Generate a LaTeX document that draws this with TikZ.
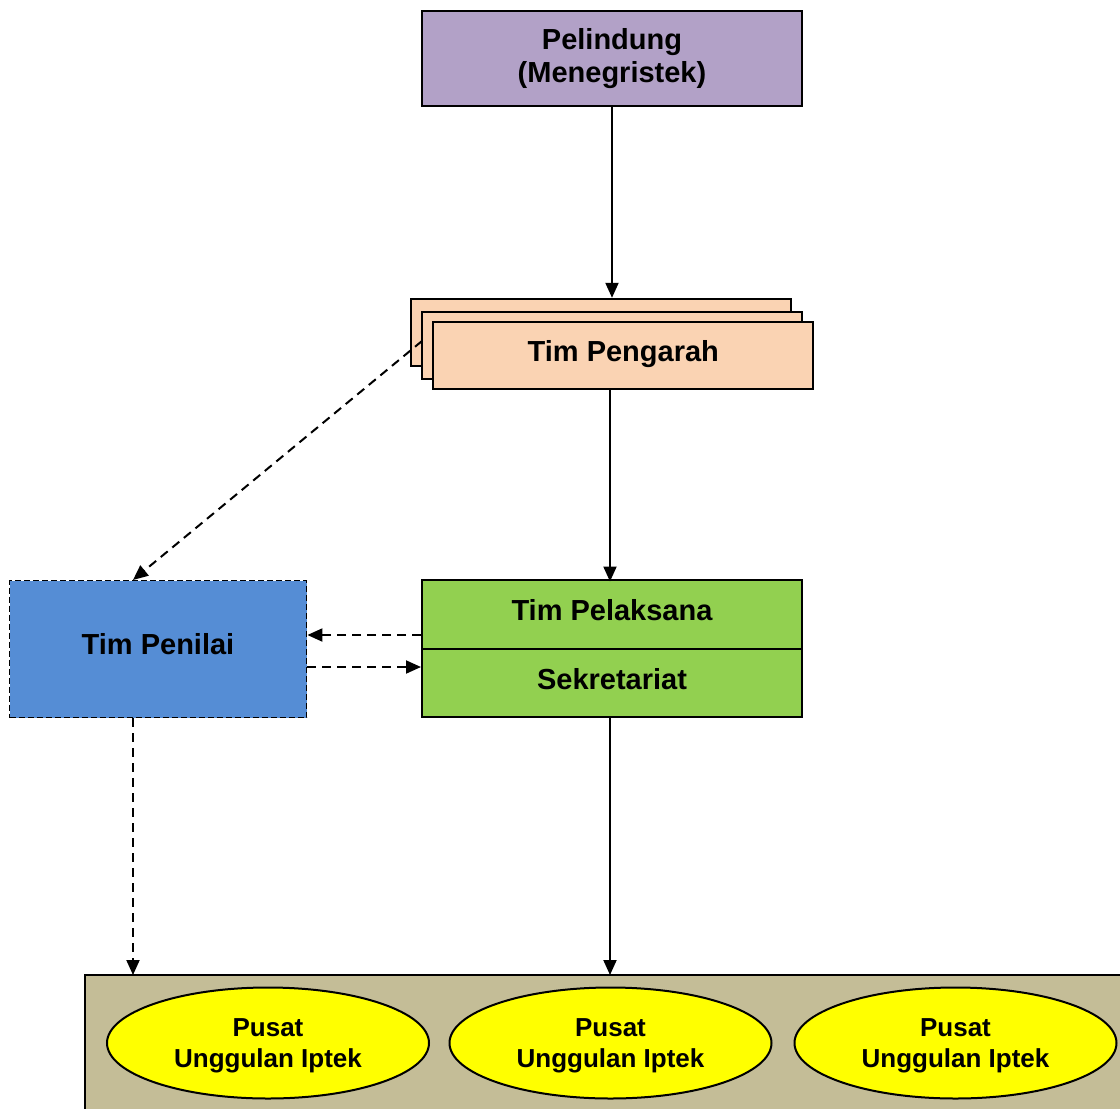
\documentclass[tikz,border=0pt]{standalone}
\usepackage{fontspec}
\setmainfont{Liberation Sans}
\usetikzlibrary{arrows.meta,shapes.geometric}
\definecolor{lav}{HTML}{B2A1C7}
\definecolor{peach}{HTML}{FAD3B3}
\definecolor{grn}{HTML}{92D050}
\definecolor{blu}{HTML}{558DD5}
\definecolor{khaki}{HTML}{C4BD97}
\definecolor{yel}{HTML}{FFFF00}
\newcommand{\upt}[2]{\raisebox{#1}[\height][\depth]{#2}}
\begin{document}
\begin{tikzpicture}[x=1pt,y=-1pt,
  box/.style={draw=black,line width=2pt,inner sep=0pt,font=\fontsize{29}{33}\selectfont\bfseries,align=center},
  oval/.style={ellipse,draw=black,line width=2pt,fill=yel,inner sep=0pt,minimum width=322pt,minimum height=111pt,font=\fontsize{26}{31}\selectfont\bfseries},
  con/.style={line width=2pt,-{Triangle[length=15pt,width=13pt]}},
  dcon/.style={con,dash pattern=on 9pt off 6pt}]
\useasboundingbox (0,0) rectangle (1120,1109);
% bottom panel
\path[fill=khaki,draw=black,line width=2pt] (85,975) rectangle (1135,1125);
\coordinate (bottomL) at (133,975);
\coordinate (bottomM) at (610,975);
% Pelindung
\node[box,fill=lav,minimum width=380pt,minimum height=95pt] (pel) at (612,58.5) {Pelindung\\(Menegristek)};
% Tim Pengarah stack
\node[box,fill=peach,minimum width=380pt,minimum height=67pt] (pg3) at (600.7,332.3) {};
% dashed diagonal, above the back sheet, below the others
\coordinate (dstart) at (422,341);
\coordinate (penTop) at (133,580);
\draw[dcon] (dstart) -- (penTop);
\node[box,fill=peach,minimum width=380pt,minimum height=67pt] (pg2) at (612,345.7) {};
\node[box,fill=peach,minimum width=380pt,minimum height=67pt] (pg1) at (623.3,355) {\upt{1pt}{Tim Pengarah}};
% Tim Pelaksana / Sekretariat
\node[box,fill=grn,minimum width=380pt,minimum height=69pt] (pel1) at (612,614.5) {\upt{4pt}{Tim Pelaksana}};
\node[box,fill=grn,minimum width=380pt,minimum height=68pt] (sek) at (612,683) {\upt{4pt}{Sekretariat}};
% Tim Penilai
\node[box,fill=blu,dash pattern=on 6pt off 3pt,line width=1.8pt,minimum width=297pt,minimum height=137pt] (pen) at (158,649) {\upt{5pt}{Tim Penilai}};
% ovals
\node[oval] (o1) at (268,1043) {\upt{-3pt}{\begin{tabular}{@{}c@{}}Pusat\\Unggulan Iptek\end{tabular}}};
\node[oval] (o2) at (610.5,1043) {\upt{-3pt}{\begin{tabular}{@{}c@{}}Pusat\\Unggulan Iptek\end{tabular}}};
\node[oval] (o3) at (955.5,1043) {\upt{-3pt}{\begin{tabular}{@{}c@{}}Pusat\\Unggulan Iptek\end{tabular}}};
% connectors
\draw[con] (pel.south) -- (pel.south |- pg3.north);
\draw[con] (pg1.south -| sek.south) ++(-2,0) -- ++(0,192);
\draw[con] (sek.south) ++(-2,0) -- (bottomM);
\draw[dcon] (pel1.west |- 0,635) -- (pen.east |- 0,635);
\draw[dcon] (pen.east |- 0,667) -- (sek.west |- 0,667);
\draw[dcon] (pen.south -| bottomL) -- (bottomL);
\end{tikzpicture}
\end{document}
